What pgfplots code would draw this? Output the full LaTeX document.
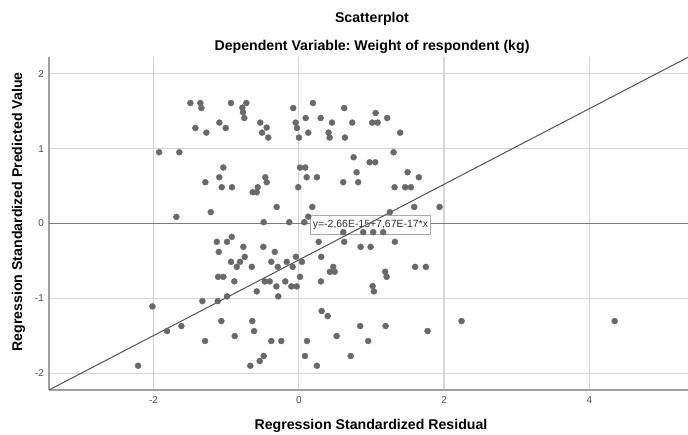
\documentclass[border=0pt]{standalone}
\usepackage{pgfplots}
\pgfplotsset{compat=1.18}
\usepackage{fontspec}
\setmainfont{Liberation Sans}
\frenchspacing
\definecolor{ptc}{RGB}{105,105,105}
\definecolor{gridc}{RGB}{214,214,214}
\definecolor{axc}{RGB}{160,160,160}
\definecolor{linec}{RGB}{85,85,85}
\definecolor{fitc}{RGB}{125,125,125}
\definecolor{boxc}{RGB}{170,170,170}
\pgfplotstableread{
x y
-1.492 1.608
-1.355 1.608
-1.341 1.541
-0.933 1.608
-0.722 1.608
-0.777 1.547
-0.768 1.484
-0.750 1.408
-1.424 1.275
-1.272 1.213
-1.094 1.347
-1.006 1.275
-1.923 0.951
-1.644 0.951
-1.039 0.747
-1.094 0.617
-1.286 0.551
-1.061 0.484
-0.919 0.484
-1.685 0.088
-1.212 0.151
-0.076 1.541
0.195 1.608
0.626 1.541
1.058 1.475
0.095 1.408
0.301 1.408
1.217 1.408
-0.530 1.347
-0.043 1.347
0.457 1.347
0.736 1.347
1.011 1.347
1.085 1.347
-0.442 1.280
-0.025 1.275
-0.506 1.213
0.131 1.213
0.411 1.213
1.396 1.213
-0.420 1.147
0.003 1.147
0.425 1.147
0.635 1.147
1.305 0.951
0.755 0.884
0.975 0.817
1.052 0.817
0.017 0.747
0.089 0.747
0.796 0.684
1.498 0.684
-0.461 0.617
0.109 0.617
0.250 0.617
1.653 0.617
-0.442 0.551
0.612 0.551
0.818 0.551
-0.565 0.484
-0.007 0.484
1.319 0.484
1.465 0.484
1.543 0.484
-0.634 0.417
-0.579 0.417
-0.304 0.221
0.186 0.221
1.589 0.221
1.938 0.221
1.254 0.151
-0.483 0.017
-0.131 0.017
0.076 0.017
0.131 0.091
0.612 -0.116
0.887 -0.116
1.025 -0.116
1.162 -0.116
0.274 -0.245
0.626 -0.245
0.851 -0.312
0.989 -0.312
1.323 -0.245
0.309 -0.445
0.475 -0.579
0.429 -0.645
0.494 -0.645
0.305 -0.773
1.190 -0.645
1.209 -0.712
1.602 -0.579
1.750 -0.579
1.017 -0.836
1.034 -0.907
0.044 -0.512
-0.039 -0.445
0.017 -0.712
-0.084 -0.579
-0.166 -0.512
-0.186 -0.773
-0.103 -0.840
-0.029 -0.840
-0.309 -0.840
-0.282 -0.973
-0.290 -0.579
-0.378 -0.512
-0.331 -0.379
-0.488 -0.312
-0.469 -0.773
-0.400 -0.773
-0.579 -0.907
-0.648 -0.579
-0.763 -0.312
-0.744 -0.445
-0.809 -0.512
-0.854 -0.579
-0.933 -0.512
-0.923 -0.179
-0.887 -0.773
0.315 -1.169
0.398 -1.236
-0.640 -1.303
-0.616 -1.436
-0.882 -1.503
-0.378 -1.569
-0.241 -1.569
0.113 -1.569
0.521 -1.503
0.846 -1.369
0.956 -1.569
1.195 -1.369
1.773 -1.436
2.241 -1.303
4.349 -1.303
0.085 -1.769
0.250 -1.899
0.714 -1.769
-0.483 -1.769
-0.538 -1.836
-0.667 -1.899
-1.129 -0.245
-0.988 -0.245
-1.102 -0.379
-1.111 -0.712
-1.039 -0.712
-0.988 -0.973
-1.327 -1.036
-1.116 -1.036
-2.015 -1.107
-1.813 -1.436
-1.616 -1.369
-1.066 -1.303
-1.290 -1.569
-2.212 -1.899
}\pts
\begin{document}
\begin{tikzpicture}[x=1bp,y=1bp]
\useasboundingbox (0,0) rectangle (688,435);
\begin{axis}[
  at={(49bp,45bp)}, anchor=south west,
  scale only axis, width=639bp, height=332.7bp,
  xmin=-3.439, xmax=5.359, ymin=-2.223, ymax=2.219,
  axis x line*=bottom, axis y line*=left,
  axis line style={-, draw=axc, line width=1.5bp},
  xtick={-2,0,2,4}, xticklabels={-2,0,2,4},
  ytick={-2,-1,0,1,2}, yticklabels={-2,-1,0,1,2},
  major tick length=0pt,
  grid=major,
  major grid style={draw=gridc, line width=1.3bp},
  xticklabel style={font=\fontsize{10}{12}\selectfont, text=black!70, anchor=north, inner sep=0pt, yshift=-6.5bp},
  yticklabel style={font=\fontsize{10}{12}\selectfont, text=black!70, anchor=east, inner sep=0pt, xshift=-5bp},
  clip=true,
]
\addplot[only marks, mark=*, mark size=3bp, mark options={fill=ptc, draw=ptc}] table[x=x,y=y] {\pts};
\addplot[fitc, line width=1.2bp] coordinates {(-3.439,0) (5.359,0)};
\node[anchor=west, draw=boxc, fill=white, line width=0.8bp, inner xsep=2.5bp, inner ysep=4.5bp, font=\fontsize{10.5}{12}\selectfont, text=black!80] at (axis cs:0.154,-0.017) {y=-2,66E-15+7,67E-17*x};
\addplot[linec, line width=1bp] coordinates {(-3.439,-2.223) (5.359,2.219)};
\end{axis}
\node[anchor=base, font=\fontsize{14.2}{16}\selectfont\bfseries] at (372,412) {Scatterplot};
\node[anchor=base, font=\fontsize{14.2}{16}\selectfont\bfseries] at (372,384) {Dependent Variable: Weight of respondent (kg)};
\node[anchor=base, font=\fontsize{14.2}{16}\selectfont\bfseries] at (371,5) {Regression Standardized Residual};
\node[anchor=base, rotate=90, font=\fontsize{14.2}{16}\selectfont\bfseries] at (22,223) {Regression Standardized Predicted Value};
\end{tikzpicture}
\end{document}
